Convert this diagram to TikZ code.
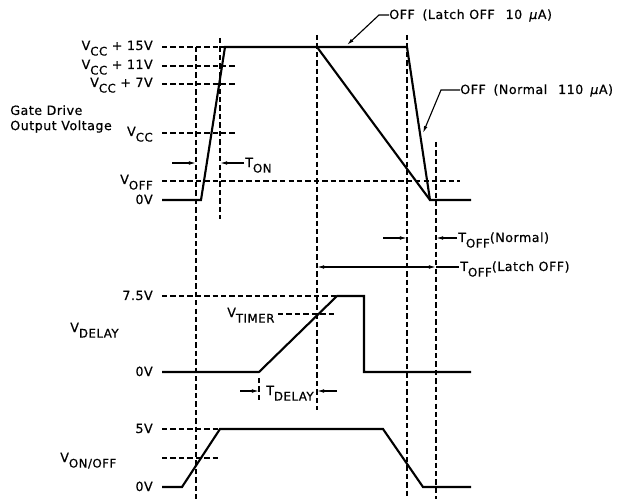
\documentclass[tikz,border=0pt]{standalone}
\usepackage{fontspec}
\setmainfont{DejaVu Sans}[LetterSpace=4, FakeBold=0.6]
\usetikzlibrary{arrows.meta}
\newcommand{\lo}[1]{\raisebox{-0.8ex}{\fontsize{8.4}{8.4}\selectfont #1}}

\begin{document}
\begin{tikzpicture}[x=0.025cm, y=-0.025cm,
                wave/.style={line width=1.5pt, line join=miter},
                guide/.style={line width=0.9pt, dash pattern=on 3.8pt off 2.2pt},
                dim/.style={line width=0.8pt, -{Latex[length=5pt, width=2.6pt]}},
                lbl/.style={font=\fontsize{9}{10.8}\selectfont, inner sep=0pt},
                lvl/.style={lbl, anchor=base east}
            ]
                \useasboundingbox (0,0) rectangle (620,499);

                % Vertical guides
                \draw[guide] (196,47) -- (196,499);
                \draw[guide] (220,38) -- (220,219);
                \draw[guide] (317,35) -- (317,410);
                \draw[guide] (407,35) -- (407,499);
                \draw[guide] (436,142) -- (436,499);

                % Gate drive output voltage
                \node[lbl, anchor=west, align=left] (gate) at (10,119) {Gate Drive\\Output Voltage};
                \node[lvl] (v15) at (153,50) {V\lo{CC} + 15V};
                \node[lvl] (v11) at (153,69) {V\lo{CC} + 11V};
                \node[lvl] (v7) at (153,87) {V\lo{CC} + 7V};
                \node[lvl] (vcc) at (153,136) {V\lo{CC}};
                \node[lvl] (voff) at (153,184) {V\lo{OFF}};
                \node[lvl] (g0) at (153,204) {0V};
                \draw[guide] (162,47) -- (225,47);
                \draw[guide] (162,66) -- (236,66);
                \draw[guide] (162,84) -- (236,84);
                \draw[guide] (162,133) -- (236,133);
                \draw[guide] (162,181) -- (460,181);
                \draw[wave] (162,200) -- (201,200) -- (225,47) -- (407,47) -- (430,200) -- (471,200);
                \draw[wave] (317,47) -- (430,200);

                % T_ON
                \coordinate (ton a) at (172,163);
                \coordinate (ton b) at (196,163);
                \coordinate (ton c) at (244,163);
                \coordinate (ton d) at (220,163);
                \draw[dim] (ton a) -- (ton b);
                \draw[dim] (ton c) -- (ton d);
                \node[lbl, anchor=base west] (ton) at (245,167) {T\lo{ON}};

                % Off callouts
                \node[lbl, anchor=base west] (latch) at (389,19) {OFF\hspace{0.25em} (Latch OFF\hspace{0.5em} 10\hspace{0.2em} \textit{μ}A)};
                \coordinate (latch k) at (379,15);
                \coordinate (latch t) at (347,45);
                \draw[dim] (latch.west |- latch k) -- (latch k) -- (latch t);
                \node[lbl, anchor=base west] (normal) at (460,94) {OFF\hspace{0.25em} (Normal\hspace{0.5em} 110\hspace{0.2em} \textit{μ}A)};
                \coordinate (normal k) at (441,90);
                \coordinate (normal t) at (423,133);
                \draw[dim] (normal.west |- normal k) -- (normal k) -- (normal t);

                % T_OFF
                \coordinate (tn a) at (383,238);
                \coordinate (tn b) at (407,238);
                \coordinate (tn c) at (457,238);
                \coordinate (tn d) at (436,238);
                \draw[dim] (tn a) -- (tn b);
                \draw[dim] (tn c) -- (tn d);
                \node[lbl, anchor=base west] (toffn) at (458,242) {T\lo{OFF}(Normal)};
                \coordinate (tl a) at (317,267);
                \coordinate (tl b) at (436,267);
                \coordinate (tl c) at (459,267);
                \draw[dim, {Latex[length=5pt, width=2.6pt]}-{Latex[length=5pt, width=2.6pt]}] (tl a) -- (tl b);
                \draw[line width=0.8pt] (tl b) -- (tl c);
                \node[lbl, anchor=base west] (toffl) at (460,271) {T\lo{OFF}(Latch OFF)};

                % V_DELAY
                \node[lbl, anchor=base west] (vdelay) at (70,332) {V\lo{DELAY}};
                \node[lvl] (d75) at (153,300) {7.5V};
                \node[lvl] (d0) at (153,376) {0V};
                \draw[guide] (162,296) -- (337,296);
                \node[lbl, anchor=base west] (vtimer) at (227,317) {V\lo{TIMER}};
                \draw[guide] (278,314) -- (337,314);
                \draw[wave] (162,372) -- (259,372) -- (337,296) -- (364,296) -- (364,372) -- (471,372);

                % T_DELAY
                \draw[guide] (259,378) -- (259,403);
                \coordinate (td a) at (240,391);
                \coordinate (td b) at (259,391);
                \coordinate (td c) at (337,391);
                \coordinate (td d) at (317,391);
                \draw[dim] (td a) -- (td b);
                \draw[dim] (td c) -- (td d);
                \node[lbl, anchor=base west] (tdelay) at (266,395) {T\lo{DELAY}};

                % V_ON/OFF
                \node[lbl, anchor=base west] (vonoff) at (60,462) {V\lo{ON/OFF}};
                \node[lvl] (o5) at (153,433) {5V};
                \node[lvl] (o0) at (153,491) {0V};
                \draw[guide] (162,429) -- (220,429);
                \draw[guide] (162,458) -- (221,458);
                \draw[wave] (162,487) -- (182,487) -- (220,429) -- (383,429) -- (423,487) -- (471,487);
            \end{tikzpicture}
\end{document}
